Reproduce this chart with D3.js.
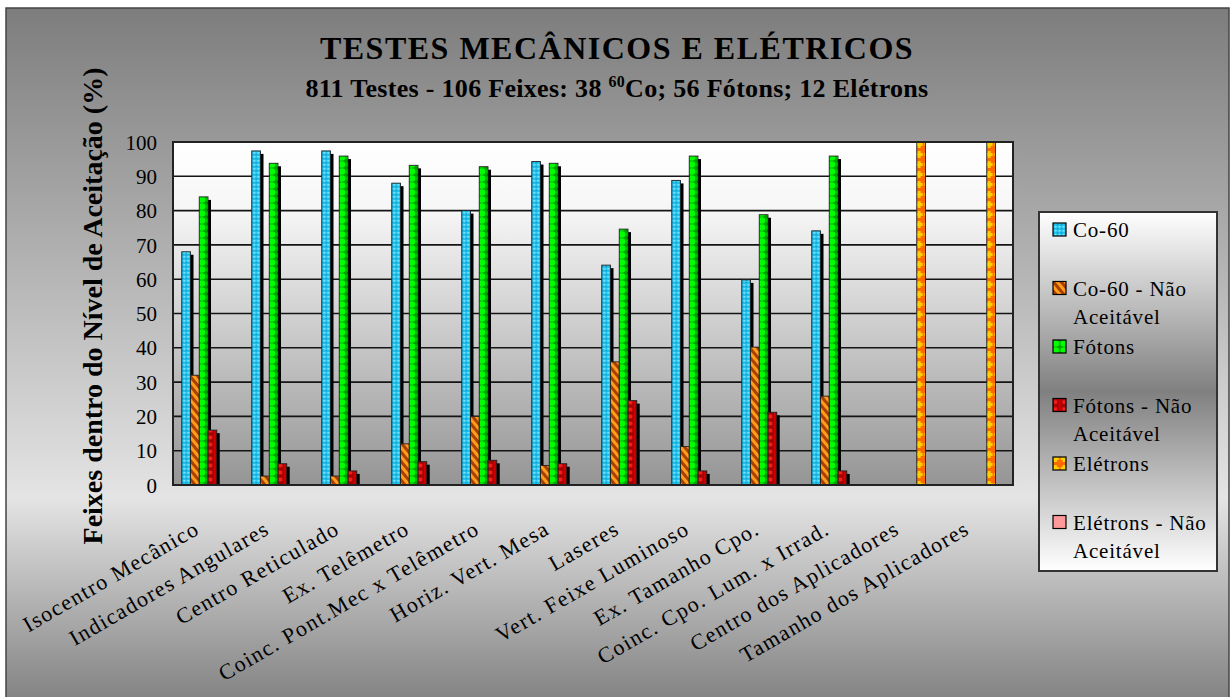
<!DOCTYPE html>
<html>
<head>
<meta charset="utf-8">
<script src="https://cdn.jsdelivr.net/npm/d3@7"></script>
<style>
  body { margin: 0; background: #fff; }
  text { font-family: "Liberation Serif", "Times New Roman", serif; fill: #000; }
</style>
</head>
<body>
<svg id="chart" width="1231" height="697"></svg>
<script>
// data
const categories = ["Isocentro Mecânico", "Indicadores Angulares", "Centro Reticulado", "Ex. Telêmetro",
  "Coinc. Pont.Mec x Telêmetro", "Horiz. Vert. Mesa", "Laseres", "Vert. Feixe Luminoso",
  "Ex. Tamanho Cpo.", "Coinc. Cpo. Lum. x Irrad.", "Centro dos Aplicadores", "Tamanho dos Aplicadores"];
const seriesNames = ["Co-60", "Co-60 - Não Aceitável", "Fótons", "Fótons - Não Aceitável", "Elétrons", "Elétrons - Não Aceitável"];
const co60 = [68, 97.4, 97.4, 88, 80, 94.3, 64.1, 88.8, 59.8, 74.1, null, null];
const co60NA = [32, 2.6, 2.6, 12, 20, 5.7, 35.9, 11.2, 40.2, 25.9, null, null];
const fotons = [84, 93.8, 95.9, 93.2, 92.8, 93.8, 74.6, 95.9, 78.8, 95.9, null, null];
const fotonsNA = [16, 6.2, 4.1, 6.8, 7.2, 6.2, 24.6, 4.1, 21.2, 4.1, null, null];
const eletrons = [null, null, null, null, null, null, null, null, null, null, 100, 100];
const eletronsNA = [null, null, null, null, null, null, null, null, null, null, 0, 0];
const yTicks = [0, 10, 20, 30, 40, 50, 60, 70, 80, 90, 100];

const allSeries = [co60, co60NA, fotons, fotonsNA, eletrons, eletronsNA];
const fills = ["url(#p-co60)", "url(#p-co60na)", "url(#p-fot)", "url(#p-fotna)", "url(#p-ele)", "#ff9999"];
const hasShadow = [true, true, true, true, false, false];

const svg = d3.select("#chart");
const plot = { left: 173, right: 1013, top: 142, bottom: 485 };

const x0 = d3.scaleBand().domain(categories).range([plot.left, plot.right])
  .paddingInner(0.25).paddingOuter(0.125);
const x1 = d3.scaleBand().domain(d3.range(seriesNames.length)).range([0, x0.bandwidth()]);
const y = d3.scaleLinear().domain([0, 100]).range([plot.bottom, plot.top]);

const defs = svg.append("defs");

// backgrounds
const bg = defs.append("linearGradient").attr("id", "g-bg").attr("x1", 0).attr("y1", 0).attr("x2", 0).attr("y2", 1);
bg.append("stop").attr("offset", 0).attr("stop-color", "#7d7d7d");
bg.append("stop").attr("offset", 0.7).attr("stop-color", "#e4e4e4");
bg.append("stop").attr("offset", 1).attr("stop-color", "#7f7f7f");

const pg = defs.append("linearGradient").attr("id", "g-plot").attr("x1", 0).attr("y1", 0).attr("x2", 0).attr("y2", 1);
pg.append("stop").attr("offset", 0).attr("stop-color", "#ffffff");
pg.append("stop").attr("offset", 0.2).attr("stop-color", "#f6f6f6");
pg.append("stop").attr("offset", 1).attr("stop-color", "#959595");

const lg = defs.append("linearGradient").attr("id", "g-leg").attr("x1", 0).attr("y1", 0).attr("x2", 0).attr("y2", 1);
lg.append("stop").attr("offset", 0).attr("stop-color", "#ffffff");
lg.append("stop").attr("offset", 0.5).attr("stop-color", "#808080");
lg.append("stop").attr("offset", 1).attr("stop-color", "#ffffff");

// bar patterns, aligned to the bar grid
const px = x0(categories[0]);
const bw = x1.bandwidth();

const pCo = defs.append("pattern").attr("id", "p-co60").attr("patternUnits", "userSpaceOnUse")
  .attr("x", px).attr("y", 0).attr("width", 4).attr("height", 4);
pCo.append("rect").attr("width", 4).attr("height", 4).attr("fill", "#22c4ee");
pCo.append("rect").attr("width", 1.5).attr("height", 1.5).attr("fill", "#9ae8ff");
pCo.append("rect").attr("x", 2).attr("y", 2).attr("width", 1.5).attr("height", 1.5).attr("fill", "#0a98c8");

const pCoNA = defs.append("pattern").attr("id", "p-co60na").attr("patternUnits", "userSpaceOnUse")
  .attr("width", 6).attr("height", 6).attr("patternTransform", "rotate(-40)");
pCoNA.append("rect").attr("width", 6).attr("height", 6).attr("fill", "#a84000");
pCoNA.append("rect").attr("width", 3).attr("height", 6).attr("fill", "#ff9c1c");

const pF = defs.append("pattern").attr("id", "p-fot").attr("patternUnits", "userSpaceOnUse")
  .attr("x", px).attr("y", 0).attr("width", bw).attr("height", 7);
pF.append("rect").attr("width", bw).attr("height", 7).attr("fill", "#00a000");
pF.append("ellipse").attr("cx", bw / 2).attr("cy", 3.5).attr("rx", bw / 2 - 0.6).attr("ry", 3.3).attr("fill", "#00ff00");

const pFN = defs.append("pattern").attr("id", "p-fotna").attr("patternUnits", "userSpaceOnUse")
  .attr("x", px).attr("y", 0).attr("width", bw).attr("height", 7);
pFN.append("rect").attr("width", bw).attr("height", 7).attr("fill", "#d00000");
pFN.append("rect").attr("x", bw / 2 - 2.5).attr("y", 1).attr("width", 5).attr("height", 5)
  .attr("fill", "#ff1a1a").attr("stroke", "#7a0000").attr("stroke-width", 1);

const pE = defs.append("pattern").attr("id", "p-ele").attr("patternUnits", "userSpaceOnUse")
  .attr("x", px).attr("y", 0).attr("width", bw).attr("height", 10);
pE.append("rect").attr("width", bw).attr("height", 10).attr("fill", "#ff6a00");
pE.append("rect").attr("x", bw / 2 - 1.5).attr("y", 1).attr("width", 3).attr("height", 7).attr("fill", "#ffd000");
pE.append("rect").attr("x", bw / 2 - 3.5).attr("y", 3).attr("width", 7).attr("height", 3).attr("fill", "#ffd000");

// chart background + frame
svg.append("rect").attr("x", 6).attr("y", 8).attr("width", 1223).attr("height", 700)
  .attr("fill", "url(#g-bg)").attr("stroke", "#444").attr("stroke-width", 1.5);

// plot area
svg.append("rect").attr("x", plot.left).attr("y", plot.top)
  .attr("width", plot.right - plot.left).attr("height", plot.bottom - plot.top)
  .attr("fill", "url(#g-plot)");

// gridlines
svg.append("g").selectAll("line").data(yTicks).join("line")
  .attr("x1", plot.left).attr("x2", plot.right)
  .attr("y1", d => y(d)).attr("y2", d => y(d))
  .attr("stroke", "#151515").attr("stroke-width", 1.6);

// y axis labels
const yAxis = d3.axisLeft(y).tickValues(yTicks).tickSize(0).tickPadding(16);
const yg = svg.append("g").attr("transform", `translate(${plot.left},0)`).call(yAxis);
yg.select(".domain").remove();
yg.selectAll("text").style("font-family", "Liberation Serif, serif").style("font-size", "21px")
  .attr("dy", "0.34em");

// bars
const groups = svg.append("g").selectAll("g").data(categories).join("g")
  .attr("transform", d => `translate(${x0(d)},0)`);

groups.each(function (cat, ci) {
  const g = d3.select(this);
  allSeries.forEach((vals, si) => {
    const v = vals[ci];
    if (v == null || v <= 0) return;
    const bx = x1(si);
    if (hasShadow[si]) {
      g.append("rect").attr("x", bx + 3).attr("y", y(v) + 3)
        .attr("width", bw).attr("height", Math.max(0, y(0) - y(v) - 3)).attr("fill", "#000");
    }
    g.append("rect").attr("x", bx).attr("y", y(v))
      .attr("width", bw).attr("height", y(0) - y(v))
      .attr("fill", fills[si]).attr("stroke", "#222").attr("stroke-width", 0.9);
  });
});

// plot frame
svg.append("rect").attr("x", plot.left).attr("y", plot.top)
  .attr("width", plot.right - plot.left).attr("height", plot.bottom - plot.top)
  .attr("fill", "none").attr("stroke", "#222").attr("stroke-width", 2);

// x labels, rotated
svg.append("g").selectAll("text").data(categories).join("text")
  .attr("transform", d => `translate(${x0(d) + x0.bandwidth() / 2 - 7},533) rotate(-30)`)
  .attr("text-anchor", "end")
  .style("font-size", "22px").style("letter-spacing", "1.4px")
  .text(d => d);

// titles
svg.append("text").attr("x", 617).attr("y", 59).attr("text-anchor", "middle")
  .style("font-size", "32px").style("font-weight", "bold").style("letter-spacing", "1.5px")
  .text("TESTES MECÂNICOS E ELÉTRICOS");

const sub = svg.append("text").attr("x", 617).attr("y", 97).attr("text-anchor", "middle")
  .style("font-size", "26px").style("font-weight", "bold").style("letter-spacing", "0.3px");
sub.append("tspan").text("811 Testes - 106 Feixes: 38 ");
sub.append("tspan").attr("dy", -10).style("font-size", "16px").text("60");
sub.append("tspan").attr("dy", 10).text("Co; 56 Fótons; 12 Elétrons");

svg.append("text").attr("transform", "translate(102,306) rotate(-90)").attr("text-anchor", "middle")
  .style("font-size", "28px").style("font-weight", "bold")
  .text("Feixes dentro do Nível de Aceitação (%)");

// legend
const leg = svg.append("g");
leg.append("rect").attr("x", 1039).attr("y", 212).attr("width", 178).attr("height", 359)
  .attr("fill", "url(#g-leg)").attr("stroke", "#333").attr("stroke-width", 2);

const items = leg.selectAll("g.item").data(seriesNames).join("g").attr("class", "item")
  .attr("transform", (d, i) => `translate(1053,${230 + i * 58.5})`);
items.append("rect").attr("x", 0).attr("y", -7).attr("width", 13).attr("height", 13)
  .attr("fill", (d, i) => fills[i]).attr("stroke", "#000").attr("stroke-width", 1.2);
items.append("text").attr("x", 20).attr("y", 0).attr("dy", "0.35em")
  .style("font-size", "21px").style("letter-spacing", "0.8px")
  .each(function (d) {
    const t = d3.select(this);
    if (d.indexOf(" - ") < 0) { t.text(d); return; }
    const words = d.split(" ");
    t.append("tspan").text(words.slice(0, -1).join(" "));
    t.append("tspan").attr("x", 20).attr("dy", 28).text(words[words.length - 1]);
  });
</script>
</body>
</html>
